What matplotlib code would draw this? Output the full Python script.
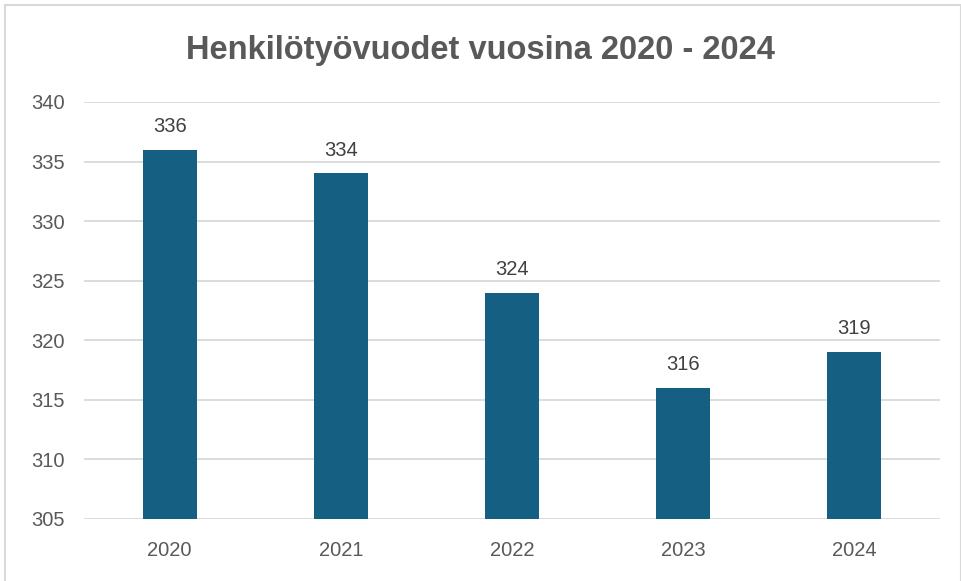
import matplotlib
matplotlib.use("Agg")
import matplotlib.pyplot as plt
from matplotlib.patches import Rectangle

years = ["2020", "2021", "2022", "2023", "2024"]
values = [336, 334, 324, 316, 319]
y_ticks = [305, 310, 315, 320, 325, 330, 335, 340]
title = "Henkilötyövuodet vuosina 2020 - 2024"

W, H = 961, 581
fig = plt.figure(figsize=(W / 100, H / 100), dpi=100)
fig.patch.set_facecolor("white")

# outer frame (chart area border)
fig.add_artist(Rectangle((5 / W, -0.01), (W - 5) / W, 1 - 5 / H + 0.01,
                         transform=fig.transFigure, fill=False,
                         edgecolor="#d9d9d9", linewidth=1.5))

ax = fig.add_axes([84 / W, 1 - 519 / H, (940 - 84) / W, (519 - 102) / H])
x = range(len(years))
bars = ax.bar(x, [v - 305 for v in values], bottom=305, width=0.316,
              color="#156082", zorder=3)
ax.set_xlim(-0.5, len(years) - 0.5)
ax.set_ylim(305, 340)
ax.set_yticks(y_ticks)
ax.set_xticks(list(x))
ax.set_xticklabels(years)
for s in ax.spines.values():
    s.set_visible(False)
ax.grid(axis="y", color="#d9d9d9", linewidth=1.3, zorder=0)
ax.tick_params(axis="both", length=0, labelsize=14.5, labelcolor="#595959",
               pad=0)
ax.tick_params(axis="y", pad=14)
ax.tick_params(axis="x", pad=16)
for lab in ax.get_xticklabels() + ax.get_yticklabels():
    lab.set_fontfamily("Liberation Sans")

for xi, v in zip(x, values):
    ax.annotate(str(v), (xi, v), xytext=(0, 10), textcoords="offset points",
                ha="center", va="bottom", fontsize=14.5, color="#404040",
                family="Liberation Sans")

fig.text(0.5, 1 - 50 / H, title, ha="center", va="center", fontsize=23.5,
         fontweight="bold", color="#595959", family="Liberation Sans")

fig.savefig("out.png", dpi=100)
